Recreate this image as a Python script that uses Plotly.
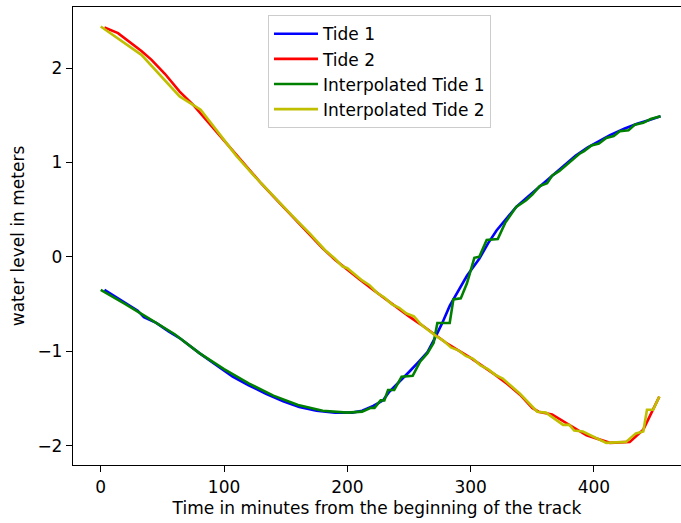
import plotly.graph_objects as go

# Tide 1 (observed)
tide1_x = [3, 15, 30, 35, 45, 55, 65, 80, 95, 107, 120, 134, 148, 161, 175, 190, 204, 212, 221, 229,
           234, 241, 250, 258, 265, 271, 277, 283, 290, 297, 307, 314, 321, 330, 337, 345, 355, 365,
           375, 385, 395, 405, 413, 425, 435, 445, 454]
tide1_y = [-0.35, -0.45, -0.57, -0.64, -0.70, -0.79, -0.87, -1.02, -1.16, -1.27, -1.36, -1.45, -1.53,
           -1.59, -1.63, -1.65, -1.65, -1.63, -1.58, -1.52, -1.43, -1.34, -1.22, -1.11, -1.01, -0.86,
           -0.70, -0.52, -0.36, -0.20, -0.02, 0.14, 0.28, 0.42, 0.53, 0.62, 0.73, 0.85, 0.96, 1.07,
           1.16, 1.23, 1.29, 1.36, 1.41, 1.45, 1.49]

# Tide 2 (observed)
tide2_x = [3, 14, 33, 41, 52, 64, 75, 83, 97, 110, 120, 130, 140, 150, 160, 170, 180, 190, 200, 210,
           220, 230, 240, 250, 260, 270, 280, 290, 300, 310, 320, 330, 340, 350, 355, 366, 380, 394,
           413, 429, 440, 453]
tide2_y = [2.43, 2.37, 2.18, 2.09, 1.94, 1.75, 1.61, 1.49, 1.27, 1.08, 0.93, 0.78, 0.64, 0.50, 0.36,
           0.22, 0.09, -0.03, -0.14, -0.24, -0.34, -0.44, -0.53, -0.63, -0.72, -0.82, -0.91, -0.99,
           -1.07, -1.16, -1.25, -1.35, -1.46, -1.60, -1.64, -1.67, -1.78, -1.89, -1.97, -1.96, -1.83,
           -1.48]

# Interpolated Tide 1
interp1_x = [0, 20, 40, 60, 80, 100, 120, 140, 160, 180, 200, 212, 219, 222, 227, 230, 233, 238, 241,
             244, 253, 259, 265, 270, 273, 283, 286, 292, 297, 303, 307, 313, 322, 328, 337, 345, 350,
             356, 362, 366, 372, 378, 382, 388, 392, 398, 404, 410, 416, 421, 428, 433, 440, 446, 454]
interp1_y = [-0.35, -0.50, -0.66, -0.82, -1.02, -1.19, -1.34, -1.47, -1.57, -1.63, -1.65, -1.64,
             -1.60, -1.60, -1.52, -1.52, -1.41, -1.41, -1.34, -1.27, -1.26, -1.11, -1.02, -0.91,
             -0.70, -0.70, -0.45, -0.44, -0.28, -0.01, 0.00, 0.18, 0.19, 0.36, 0.53, 0.60, 0.66,
             0.75, 0.78, 0.86, 0.91, 0.98, 1.03, 1.09, 1.12, 1.18, 1.20, 1.26, 1.28, 1.33, 1.34,
             1.40, 1.42, 1.46, 1.49]

# Interpolated Tide 2
interp2_x = [0, 33, 64, 81, 97, 110, 125, 140, 155, 170, 182, 190, 196, 200, 206, 212, 218, 224, 230,
             236, 242, 248, 254, 260, 266, 272, 278, 284, 290, 296, 302, 308, 314, 320, 326, 332, 340,
             354, 361, 375, 380, 384, 391, 410, 426, 434, 440, 443, 448, 453]
interp2_y = [2.44, 2.14, 1.70, 1.56, 1.29, 1.07, 0.85, 0.64, 0.44, 0.24, 0.07, -0.02, -0.10, -0.12,
             -0.19, -0.25, -0.30, -0.38, -0.43, -0.50, -0.54, -0.60, -0.63, -0.72, -0.78, -0.84,
             -0.89, -0.96, -0.99, -1.05, -1.08, -1.15, -1.19, -1.25, -1.29, -1.36, -1.45, -1.64,
             -1.65, -1.78, -1.78, -1.84, -1.85, -1.97, -1.96, -1.87, -1.85, -1.62, -1.62, -1.48]

series = [
    ("Tide 1", tide1_x, tide1_y, "#0000ff"),
    ("Tide 2", tide2_x, tide2_y, "#ff0000"),
    ("Interpolated Tide 1", interp1_x, interp1_y, "#008000"),
    ("Interpolated Tide 2", interp2_x, interp2_y, "#bfbf00"),
]

fig = go.Figure()
for name, xs, ys, col in series:
    fig.add_trace(go.Scatter(x=xs, y=ys, mode="lines", name=name,
                             line=dict(color=col, width=2.6)))

font = dict(family="DejaVu Sans", size=17, color="#000000")
axis_common = dict(showgrid=False, zeroline=False, showline=True, linecolor="#000000",
                   linewidth=1.3, ticks="outside", ticklen=6, tickwidth=1.3,
                   tickcolor="#000000", tickfont=font)

fig.update_layout(
    width=681, height=523,
    margin=dict(l=73, r=0, t=7, b=58),
    plot_bgcolor="#ffffff", paper_bgcolor="#ffffff",
    font=font,
    xaxis=dict(range=[-22.5, 470.6], tickvals=[0, 100, 200, 300, 400], mirror=True,
               title=dict(text="Time in minutes from the beginning of the track",
                          font=font, standoff=6),
               **axis_common),
    yaxis=dict(range=[-2.205, 2.647], tickvals=[-2, -1, 0, 1, 2],
               ticktext=["\u22122", "\u22121", "0", "1", "2"],
               title=dict(text="water level in meters", font=font, standoff=8),
               **axis_common),
    legend=dict(x=0.3207, y=0.982, xanchor="left", yanchor="top",
                bgcolor="rgba(255,255,255,0.8)", bordercolor="#cccccc", borderwidth=1,
                font=font, itemwidth=44),
    showlegend=True,
)

fig.write_html("out.html")
